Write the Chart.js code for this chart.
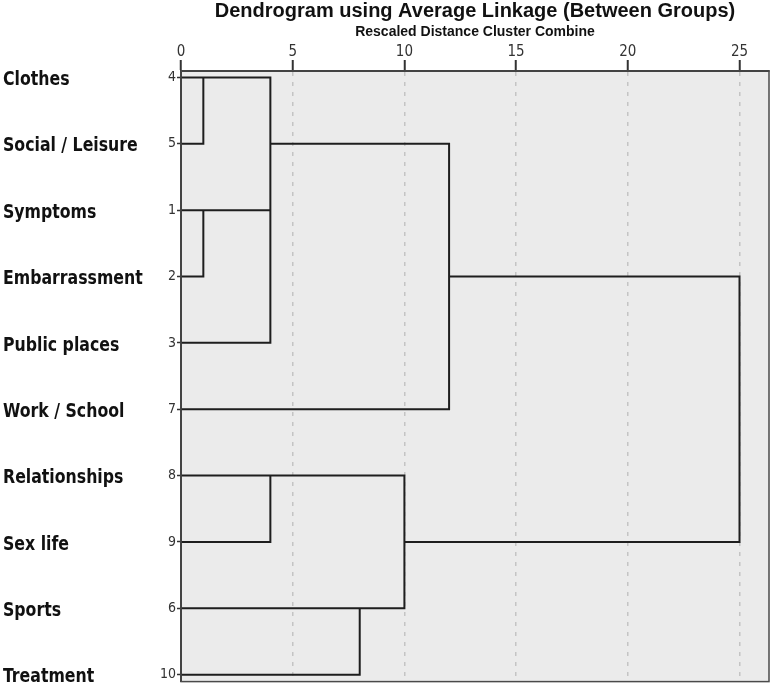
<!DOCTYPE html>
<html>
<head>
<meta charset="utf-8">
<title>Dendrogram</title>
<script src="https://cdn.jsdelivr.net/npm/chart.js@4/dist/chart.umd.min.js"></script>
<style>
    body { margin: 0; background: #ffffff; }
    #wrap { width: 771px; height: 691px; position: relative; }
</style>
</head>
<body>
<div id="wrap"><canvas id="dendroChart"></canvas></div>
<script>
// Datos del dendrograma
const categories = ['Clothes', 'Social / Leisure', 'Symptoms', 'Embarrassment', 'Public places',
    'Work / School', 'Relationships', 'Sex life', 'Sports', 'Treatment'];
const caseNumbers = ['4', '5', '1', '2', '3', '7', '8', '9', '6', '10'];
const rowIndex = [0, 1, 2, 3, 4, 5, 6, 7, 8, 9];
const distTicks = [0, 5, 10, 15, 20, 25];

// Tramos del árbol: [distancia, fila]
const linkLines = [
    [[0, 1], [1, 1], [1, 0]],
    [[0, 0], [4, 0], [4, 4], [0, 4]],
    [[0, 2], [4, 2]],
    [[1, 2], [1, 3], [0, 3]],
    [[4, 1], [12, 1], [12, 5], [0, 5]],
    [[12, 3], [25, 3], [25, 7], [10, 7]],
    [[0, 6], [10, 6], [10, 8], [0, 8]],
    [[4, 6], [4, 7], [0, 7]],
    [[8, 8], [8, 9], [0, 9]]
];

const condensed = "'DejaVu Sans Condensed', 'Liberation Sans Narrow', sans-serif";
const nameFont = "bold 20px " + condensed;
const nameSqueeze = 0.875; // letras más estrechas, como en el original

// Fondo gris del área y nombres a la izquierda
const dendroPlugin = {
    id: 'dendroPlugin',
    beforeDraw(chart) {
        const a = chart.chartArea;
        const ctx = chart.ctx;
        ctx.save();
        ctx.fillStyle = '#ebebeb';
        ctx.fillRect(a.left, a.top, a.right - a.left, a.bottom - a.top);
        ctx.restore();
    },
    afterDraw(chart) {
        const a = chart.chartArea;
        const ctx = chart.ctx;
        const yScale = chart.scales.y;
        ctx.save();
        ctx.strokeStyle = '#4a4a4a';
        ctx.lineWidth = 1.5;
        ctx.strokeRect(a.left, a.top, a.right - a.left, a.bottom - a.top);
        ctx.restore();

        ctx.save();
        ctx.font = nameFont;
        ctx.fillStyle = '#111111';
        ctx.textAlign = 'left';
        ctx.textBaseline = 'middle';
        ctx.scale(nameSqueeze, 1);
        categories.forEach((name, i) => {
            ctx.fillText(name, 3 / nameSqueeze, yScale.getPixelForValue(rowIndex[i]) + 2.5);
        });
        ctx.restore();
    }
};

const ctx = document.getElementById('dendroChart').getContext('2d');
new Chart(ctx, {
    type: 'scatter',
    data: {
        datasets: linkLines.map(pts => ({
            data: pts.map(p => ({ x: p[0], y: p[1] })),
            showLine: true,
            borderColor: '#1e1e1e',
            borderWidth: 2,
            pointRadius: 0,
            pointHoverRadius: 0,
            tension: 0,
            clip: false
        }))
    },
    options: {
        responsive: true,
        maintainAspectRatio: false,
        animation: false,
        layout: { padding: { left: 0, right: 2, top: 0, bottom: 3 } },
        plugins: {
            legend: { display: false },
            tooltip: { enabled: false },
            title: {
                display: true,
                text: 'Dendrogram using Average Linkage (Between Groups)',
                fullSize: false,
                color: '#111111',
                font: { family: "'Liberation Sans', Arial, sans-serif", size: 20, weight: 'bold', lineHeight: 1.1 },
                padding: { top: 0, bottom: 0 }
            }
        },
        scales: {
            x: {
                type: 'linear',
                position: 'top',
                min: 0,
                max: 26.32,
                afterBuildTicks: scale => {
                    scale.ticks = distTicks.map(v => ({ value: v }));
                },
                afterFit: scale => { scale.height = 49; },
                title: {
                    display: true,
                    text: 'Rescaled Distance Cluster Combine',
                    color: '#111111',
                    font: { family: "'Liberation Sans', Arial, sans-serif", size: 14, weight: 'bold', lineHeight: 1.1 },
                    padding: { top: 2.5, bottom: 0 }
                },
                ticks: {
                    color: '#333333',
                    padding: 0,
                    maxRotation: 0,
                    font: { family: condensed, size: 15, lineHeight: 1.0 }
                },
                grid: {
                    color: c => (c.tick && c.tick.value === 0) ? 'rgba(0,0,0,0)' : '#c4c4c4',
                    lineWidth: 1.5,
                    drawTicks: true,
                    tickLength: 11,
                    tickColor: '#333333',
                    tickWidth: 2
                },
                border: { display: true, color: '#333333', width: 2, dash: [4, 6] }
            },
            y: {
                type: 'linear',
                reverse: true,
                min: -0.0969,
                max: 9.1044,
                afterBuildTicks: scale => {
                    scale.ticks = rowIndex.map(v => ({ value: v }));
                },
                afterFit: scale => { scale.width = 181; },
                ticks: {
                    color: '#333333',
                    padding: 1,
                    font: { family: condensed, size: 14 },
                    callback: (value, index) => caseNumbers[index]
                },
                grid: {
                    drawOnChartArea: false,
                    drawTicks: true,
                    tickLength: 4,
                    tickColor: '#333333',
                    tickWidth: 1.5
                },
                border: { display: true, color: '#333333', width: 2 }
            }
        }
    },
    plugins: [dendroPlugin]
});
</script>
</body>
</html>
